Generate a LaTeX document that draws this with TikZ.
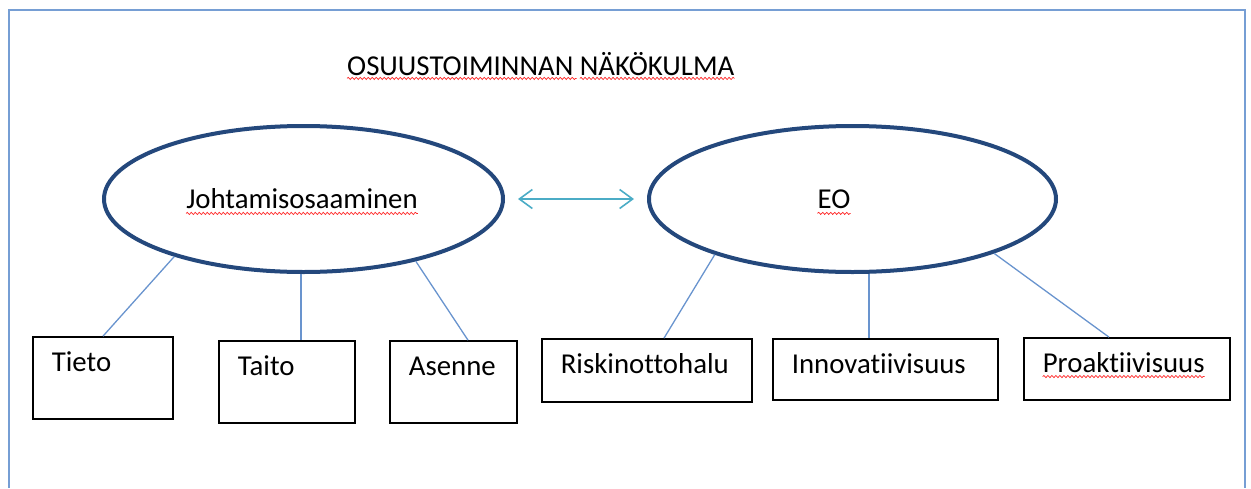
\documentclass[tikz,border=0pt]{standalone}
\usepackage{fontspec}
\setmainfont[Ligatures=NoCommon]{Carlito}
\usetikzlibrary{arrows.meta,shapes.geometric,decorations.pathmorphing,calc}

\definecolor{ovalblue}{RGB}{36,72,124}
\definecolor{spokeblue}{RGB}{105,148,206}
\definecolor{arrowcyan}{RGB}{75,172,198}
\definecolor{frameblue}{RGB}{118,158,212}

\tikzset{
  txt/.style={inner sep=0pt,font=\fontsize{28.8}{34}\selectfont},
  oval/.style={ellipse,draw=ovalblue,line width=4pt,inner sep=0pt},
  box/.style={draw=black,line width=1.7pt,inner sep=0pt},
  spoke/.style={draw=spokeblue,line width=1.3pt},
  squiggle/.style={draw=red!85,line width=0.7pt,
    decorate,decoration={snake,segment length=4pt,amplitude=1.1pt}},
  frame/.style={draw=frameblue,line width=2pt}
}

\begin{document}
\begin{tikzpicture}[x=1pt,y=-1pt]
\useasboundingbox (0,0) rectangle (1251,488);
% ---- open frame ----
\draw[frame] (9,488) -- (9,10) -- (1245,10) -- (1245,488);
% ---- title ----
\node[txt,anchor=base west] (title) at (347,75) {OSUUSTOIMINNAN NÄKÖKULMA};
\draw[squiggle] ([yshift=-3pt]title.south west)
  -- ([yshift=-3pt]$(title.south west)!0.593!(title.south east)$);
\draw[squiggle] ([yshift=-3pt]$(title.south west)!0.601!(title.south east)$)
  -- ([yshift=-3pt]title.south east);
% ---- the two ellipses ----
\node[oval,minimum width=399pt,minimum height=146pt] (jo) at (303.5,199) {};
\node[txt,anchor=base] (jotext) at (302,208) {Johtamisosaaminen};
\node[oval,minimum width=407pt,minimum height=146pt] (eo) at (852.5,199) {};
\node[txt,anchor=base] (eotext) at (834,208) {EO};
\draw[squiggle] ([yshift=-5pt]jotext.south west) -- ([yshift=-5pt]jotext.south east);
\draw[squiggle] ([yshift=-5pt]eotext.south west) -- ([yshift=-5pt]eotext.south east);
\draw[draw=arrowcyan,line width=1.6pt,
  {Straight Barb[length=13pt,width=19pt]}-{Straight Barb[length=13pt,width=19pt]}]
  ([xshift=13pt]jo.east) -- ([xshift=-13pt]eo.west);
% ---- boxes: name/x/y/width/height/text ----
\foreach \nm/\x/\y/\w/\h/\txt in {tieto/103/378/140/82/Tieto,
    taito/287/382/136/82/Taito, asenne/453.5/382/127/82/Asenne,
    riski/647/370.5/210/63/Riskinottohalu, innov/885.5/369.5/225/61/Innovatiivisuus,
    proak/1127/369/206/62/Proaktiivisuus}{
  \node[box,minimum width=\w pt,minimum height=\h pt] (\nm) at (\x,\y) {};
  \node[txt,anchor=base west] (\nm-t) at ([shift={(19.5,35)}]\nm.north west) {\txt};
}
\draw[squiggle] ([yshift=-4pt]proak-t.south west) -- ([yshift=-4pt]proak-t.south east);
% ---- spokes ----
\draw[spoke] (jo.204) -- (tieto.north);
\draw[spoke] ([xshift=-2.5pt]jo.south) -- ([xshift=-2.5pt]jo.south |- taito.north);
\draw[spoke] (jo.331) -- ([xshift=14.5pt]asenne.north);
\draw[spoke] (eo.202.6) -- ([xshift=17pt]riski.north);
\draw[spoke] ([xshift=16.5pt]eo.south) -- ([xshift=16.5pt]eo.south |- innov.north);
\draw[spoke] (eo.339.8) -- ([xshift=-18pt]proak.north);
\end{tikzpicture}
\end{document}
